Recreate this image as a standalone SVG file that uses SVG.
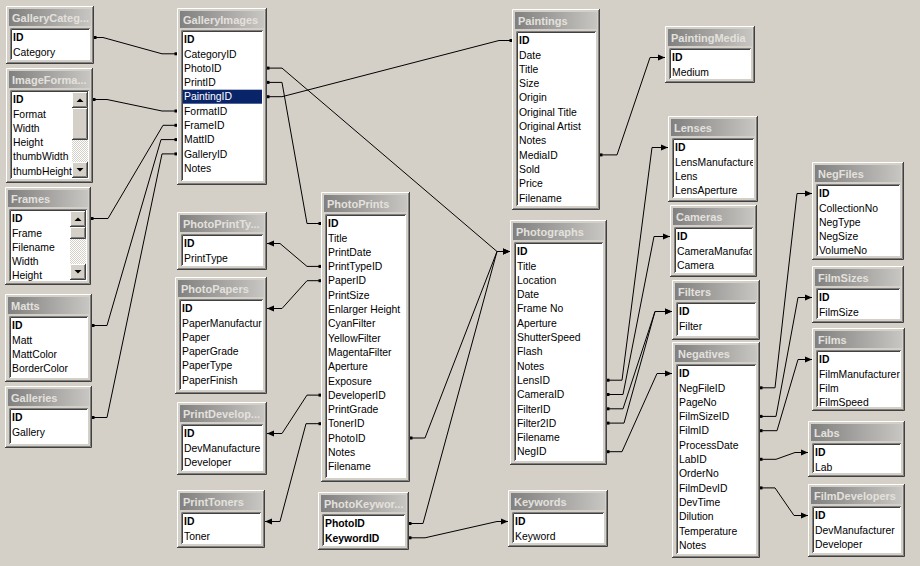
<svg xmlns="http://www.w3.org/2000/svg" width="920" height="566" viewBox="0 0 920 566">
<defs>
<linearGradient id="tg" x1="0" y1="0" x2="1" y2="0"><stop offset="0" stop-color="#808080"/><stop offset="1" stop-color="#c8c6c2"/></linearGradient>
<pattern id="dither" width="2" height="2" patternUnits="userSpaceOnUse"><rect width="2" height="2" fill="#fff"/><rect width="1" height="1" fill="#d4d0c8"/><rect x="1" y="1" width="1" height="1" fill="#d4d0c8"/></pattern>
<marker id="dot" markerUnits="userSpaceOnUse" markerWidth="4" markerHeight="4" refX="2" refY="2" viewBox="0 0 4 4"><rect x="0.5" y="0.5" width="3" height="3" fill="#000"/></marker>
<marker id="arr" markerUnits="userSpaceOnUse" markerWidth="7" markerHeight="7" refX="7" refY="3.5" viewBox="0 0 7 7" orient="auto"><path d="M0,0.5 L7,3.5 L0,6.5 z" fill="#000"/></marker>
<style>
.win{fill:#d4d0c8}
.hl{fill:none;stroke:#fff}
.dk{fill:none;stroke:#404040}
.md{fill:none;stroke:#808080}
.tb{fill:url(#tg)}
.tt{font-family:"Liberation Sans",Arial,sans-serif;font-size:11px;font-weight:bold;fill:#e4e1dc}
.lst{fill:#fff}
.f{font-family:"Liberation Sans",Arial,sans-serif;font-size:10.4px;fill:#000}
.k{font-weight:bold}
.sel{fill:#0a246a}
.w{fill:#fff}
.cn path{fill:none;stroke:#000;stroke-width:1}
</style>
</defs>
<rect width="920" height="566" fill="#d4d0c8"/>

<g id="connectors" class="cn">
<path d="M95,37.5 H103 L162,53.8 H176" marker-start="url(#dot)" marker-end="url(#dot)"/>
<path d="M94,99.5 H107 L162,111 H176" marker-start="url(#dot)" marker-end="url(#dot)"/>
<path d="M92,218.5 H108 L163,125.3 H176" marker-start="url(#dot)" marker-end="url(#dot)"/>
<path d="M93,325.5 H107 L161,139.6 H176" marker-start="url(#dot)" marker-end="url(#dot)"/>
<path d="M93,417.5 H107 L162,153.9 H176" marker-start="url(#dot)" marker-end="url(#dot)"/>
<path d="M268,68.1 H282 L497,251.5 H510" marker-start="url(#dot)" marker-end="url(#arr)"/>
<path d="M268,82.4 H282 L307,223.5 H320" marker-start="url(#dot)" marker-end="url(#dot)"/>
<path d="M268,96.7 H282 L499,40.5 H511" marker-start="url(#dot)" marker-end="url(#dot)"/>
<path d="M601,154.9 H617 L650,57.5 H665" marker-start="url(#dot)" marker-end="url(#arr)"/>
<path d="M608,380.2 H622 L652,147.5 H668" marker-start="url(#dot)" marker-end="url(#arr)"/>
<path d="M608,394.5 H623 L654,236.5 H670" marker-start="url(#dot)" marker-end="url(#arr)"/>
<path d="M608,408.8 H623 L655,311.5 H672" marker-start="url(#dot)" marker-end="url(#arr)"/>
<path d="M608,423.1 H624 L655,311.5 H672" marker-start="url(#dot)" marker-end="url(#arr)"/>
<path d="M608,451.7 H622 L657,373.5 H672" marker-start="url(#dot)" marker-end="url(#arr)"/>
<path d="M761,387.8 H775 L797,193.5 H812" marker-start="url(#dot)" marker-end="url(#arr)"/>
<path d="M761,416.4 H776 L798,297.5 H812" marker-start="url(#dot)" marker-end="url(#arr)"/>
<path d="M761,430.7 H777 L798,359.5 H812" marker-start="url(#dot)" marker-end="url(#arr)"/>
<path d="M761,459.3 H776 L795,452.5 H808" marker-start="url(#dot)" marker-end="url(#arr)"/>
<path d="M761,487.9 H775 L794,515.5 H808" marker-start="url(#dot)" marker-end="url(#arr)"/>
<path d="M320,266.4 H307 L280,243.5 H267" marker-start="url(#dot)" marker-end="url(#arr)"/>
<path d="M320,280.7 H307 L282,308.5 H267" marker-start="url(#dot)" marker-end="url(#arr)"/>
<path d="M320,395.1 H307 L282,433.5 H267" marker-start="url(#dot)" marker-end="url(#arr)"/>
<path d="M320,423.7 H306 L280,521.5 H265" marker-start="url(#dot)" marker-end="url(#arr)"/>
<path d="M411,438 H425 L497,251.5 H510" marker-start="url(#dot)" marker-end="url(#arr)"/>
<path d="M410,523.5 H423 L497,251.5 H510" marker-start="url(#dot)" marker-end="url(#arr)"/>
<path d="M410,537.8 H425 L497,521.5 H508" marker-start="url(#dot)" marker-end="url(#arr)"/>
</g>

<g id="t-gallerycategories" transform="translate(6,6)">
<rect class="win" width="88" height="58"/>
<path class="hl" d="M0.5,57 V0.5 H87"/><path class="dk" d="M0,57.5 H87.5 V0"/><path class="md" d="M1,56.5 H86.5 V1"/>
<rect class="tb" x="3" y="3" width="82" height="17"/><text class="tt" x="6" y="15.5">GalleryCateg...</text>
<rect class="lst" x="4" y="22" width="80" height="32"/>
<path class="md" d="M4.5,54 V22.5 H84"/><path class="dk" d="M5.5,53 V23.5 H83"/>
<svg width="83" height="54"><text class="f k" x="7" y="35.2">ID</text><text class="f" x="7" y="49.5">Category</text></svg>
</g>

<g id="t-imageformats" transform="translate(6,68)">
<rect class="win" width="87" height="115"/>
<path class="hl" d="M0.5,114 V0.5 H86"/><path class="dk" d="M0,114.5 H86.5 V0"/><path class="md" d="M1,113.5 H85.5 V1"/>
<rect class="tb" x="3" y="3" width="81" height="17"/><text class="tt" x="6" y="15.5">ImageForma...</text>
<rect class="lst" x="4" y="22" width="79" height="89"/>
<path class="md" d="M4.5,111 V22.5 H83"/><path class="dk" d="M5.5,110 V23.5 H82"/>
<svg width="82" height="111"><text class="f k" x="7" y="35.2">ID</text><text class="f" x="7" y="49.5">Format</text><text class="f" x="7" y="63.8">Width</text><text class="f" x="7" y="78.1">Height</text><text class="f" x="7" y="92.4">thumbWidth</text><text class="f" x="7" y="106.7">thumbHeight</text></svg>
<rect x="66" y="24" width="16" height="86" fill="url(#dither)"/>
<rect class="win" x="66" y="24" width="16" height="16"/><path class="hl" d="M66.5,39 V24.5 H81"/><path class="dk" d="M66,39.5 H81.5 V24"/><path class="md" d="M67,38.5 H80.5 V25"/>
<polygon points="70.5,34 77.5,34 74,30.5" fill="#000"/>
<rect class="win" x="66" y="40" width="16" height="32"/><path class="hl" d="M66.5,71 V40.5 H81"/><path class="dk" d="M66,71.5 H81.5 V40"/><path class="md" d="M67,70.5 H80.5 V41"/>
<rect class="win" x="66" y="94" width="16" height="16"/><path class="hl" d="M66.5,109 V94.5 H81"/><path class="dk" d="M66,109.5 H81.5 V94"/><path class="md" d="M67,108.5 H80.5 V95"/>
<polygon points="70.5,100 77.5,100 74,103.5" fill="#000"/>
</g>

<g id="t-frames" transform="translate(5,187)">
<rect class="win" width="86" height="98"/>
<path class="hl" d="M0.5,97 V0.5 H85"/><path class="dk" d="M0,97.5 H85.5 V0"/><path class="md" d="M1,96.5 H84.5 V1"/>
<rect class="tb" x="3" y="3" width="80" height="17"/><text class="tt" x="6" y="15.5">Frames</text>
<rect class="lst" x="4" y="22" width="78" height="72"/>
<path class="md" d="M4.5,94 V22.5 H82"/><path class="dk" d="M5.5,93 V23.5 H81"/>
<svg width="81" height="94"><text class="f k" x="7" y="35.2">ID</text><text class="f" x="7" y="49.5">Frame</text><text class="f" x="7" y="63.8">Filename</text><text class="f" x="7" y="78.1">Width</text><text class="f" x="7" y="92.4">Height</text></svg>
<rect x="65" y="24" width="16" height="69" fill="url(#dither)"/>
<rect class="win" x="65" y="24" width="16" height="16"/><path class="hl" d="M65.5,39 V24.5 H80"/><path class="dk" d="M65,39.5 H80.5 V24"/><path class="md" d="M66,38.5 H79.5 V25"/>
<polygon points="69.5,34 76.5,34 73,30.5" fill="#000"/>
<rect class="win" x="65" y="40" width="16" height="12"/><path class="hl" d="M65.5,51 V40.5 H80"/><path class="dk" d="M65,51.5 H80.5 V40"/><path class="md" d="M66,50.5 H79.5 V41"/>
<rect class="win" x="65" y="77" width="16" height="16"/><path class="hl" d="M65.5,92 V77.5 H80"/><path class="dk" d="M65,92.5 H80.5 V77"/><path class="md" d="M66,91.5 H79.5 V78"/>
<polygon points="69.5,83 76.5,83 73,86.5" fill="#000"/>
</g>

<g id="t-matts" transform="translate(5,294)">
<rect class="win" width="87" height="88"/>
<path class="hl" d="M0.5,87 V0.5 H86"/><path class="dk" d="M0,87.5 H86.5 V0"/><path class="md" d="M1,86.5 H85.5 V1"/>
<rect class="tb" x="3" y="3" width="81" height="17"/><text class="tt" x="6" y="15.5">Matts</text>
<rect class="lst" x="4" y="22" width="79" height="62"/>
<path class="md" d="M4.5,84 V22.5 H83"/><path class="dk" d="M5.5,83 V23.5 H82"/>
<svg width="82" height="84"><text class="f k" x="7" y="35.2">ID</text><text class="f" x="7" y="49.5">Matt</text><text class="f" x="7" y="63.8">MattColor</text><text class="f" x="7" y="78.1">BorderColor</text></svg>
</g>

<g id="t-galleries" transform="translate(5,386)">
<rect class="win" width="87" height="62"/>
<path class="hl" d="M0.5,61 V0.5 H86"/><path class="dk" d="M0,61.5 H86.5 V0"/><path class="md" d="M1,60.5 H85.5 V1"/>
<rect class="tb" x="3" y="3" width="81" height="17"/><text class="tt" x="6" y="15.5">Galleries</text>
<rect class="lst" x="4" y="22" width="79" height="36"/>
<path class="md" d="M4.5,58 V22.5 H83"/><path class="dk" d="M5.5,57 V23.5 H82"/>
<svg width="82" height="58"><text class="f k" x="7" y="35.2">ID</text><text class="f" x="7" y="49.5">Gallery</text></svg>
</g>

<g id="t-galleryimages" transform="translate(177,8)">
<rect class="win" width="90" height="177"/>
<path class="hl" d="M0.5,176 V0.5 H89"/><path class="dk" d="M0,176.5 H89.5 V0"/><path class="md" d="M1,175.5 H88.5 V1"/>
<rect class="tb" x="3" y="3" width="84" height="17"/><text class="tt" x="6" y="15.5">GalleryImages</text>
<rect class="lst" x="4" y="22" width="82" height="151"/>
<path class="md" d="M4.5,173 V22.5 H86"/><path class="dk" d="M5.5,172 V23.5 H85"/>
<rect class="sel" x="6" y="81.7" width="79" height="14"/>
<svg width="85" height="173"><text class="f k" x="7" y="35.2">ID</text><text class="f" x="7" y="49.5">CategoryID</text><text class="f" x="7" y="63.8">PhotoID</text><text class="f" x="7" y="78.1">PrintID</text><text class="f w" x="7" y="92.4">PaintingID</text><text class="f" x="7" y="106.7">FormatID</text><text class="f" x="7" y="121">FrameID</text><text class="f" x="7" y="135.3">MattID</text><text class="f" x="7" y="149.6">GalleryID</text><text class="f" x="7" y="163.9">Notes</text></svg>
</g>

<g id="t-photoprinttypes" transform="translate(177,212)">
<rect class="win" width="90" height="58"/>
<path class="hl" d="M0.5,57 V0.5 H89"/><path class="dk" d="M0,57.5 H89.5 V0"/><path class="md" d="M1,56.5 H88.5 V1"/>
<rect class="tb" x="3" y="3" width="84" height="17"/><text class="tt" x="6" y="15.5">PhotoPrintTy...</text>
<rect class="lst" x="4" y="22" width="82" height="32"/>
<path class="md" d="M4.5,54 V22.5 H86"/><path class="dk" d="M5.5,53 V23.5 H85"/>
<svg width="85" height="54"><text class="f k" x="7" y="35.2">ID</text><text class="f" x="7" y="49.5">PrintType</text></svg>
</g>

<g id="t-photopapers" transform="translate(175,277)">
<rect class="win" width="92" height="117"/>
<path class="hl" d="M0.5,116 V0.5 H91"/><path class="dk" d="M0,116.5 H91.5 V0"/><path class="md" d="M1,115.5 H90.5 V1"/>
<rect class="tb" x="3" y="3" width="86" height="17"/><text class="tt" x="6" y="15.5">PhotoPapers</text>
<rect class="lst" x="4" y="22" width="84" height="91"/>
<path class="md" d="M4.5,113 V22.5 H88"/><path class="dk" d="M5.5,112 V23.5 H87"/>
<svg width="87" height="113"><text class="f k" x="7" y="35.2">ID</text><text class="f" x="7" y="49.5">PaperManufactur</text><text class="f" x="7" y="63.8">Paper</text><text class="f" x="7" y="78.1">PaperGrade</text><text class="f" x="7" y="92.4">PaperType</text><text class="f" x="7" y="106.7">PaperFinish</text></svg>
</g>

<g id="t-printdevelopers" transform="translate(177,402)">
<rect class="win" width="90" height="73"/>
<path class="hl" d="M0.5,72 V0.5 H89"/><path class="dk" d="M0,72.5 H89.5 V0"/><path class="md" d="M1,71.5 H88.5 V1"/>
<rect class="tb" x="3" y="3" width="84" height="17"/><text class="tt" x="6" y="15.5">PrintDevelop...</text>
<rect class="lst" x="4" y="22" width="82" height="47"/>
<path class="md" d="M4.5,69 V22.5 H86"/><path class="dk" d="M5.5,68 V23.5 H85"/>
<svg width="85" height="69"><text class="f k" x="7" y="35.2">ID</text><text class="f" x="7" y="49.5">DevManufacture</text><text class="f" x="7" y="63.8">Developer</text></svg>
</g>

<g id="t-printtoners" transform="translate(177,490)">
<rect class="win" width="88" height="58"/>
<path class="hl" d="M0.5,57 V0.5 H87"/><path class="dk" d="M0,57.5 H87.5 V0"/><path class="md" d="M1,56.5 H86.5 V1"/>
<rect class="tb" x="3" y="3" width="82" height="17"/><text class="tt" x="6" y="15.5">PrintToners</text>
<rect class="lst" x="4" y="22" width="80" height="32"/>
<path class="md" d="M4.5,54 V22.5 H84"/><path class="dk" d="M5.5,53 V23.5 H83"/>
<svg width="83" height="54"><text class="f k" x="7" y="35.2">ID</text><text class="f" x="7" y="49.5">Toner</text></svg>
</g>

<g id="t-photoprints" transform="translate(321,192)">
<rect class="win" width="89" height="290"/>
<path class="hl" d="M0.5,289 V0.5 H88"/><path class="dk" d="M0,289.5 H88.5 V0"/><path class="md" d="M1,288.5 H87.5 V1"/>
<rect class="tb" x="3" y="3" width="83" height="17"/><text class="tt" x="6" y="15.5">PhotoPrints</text>
<rect class="lst" x="4" y="22" width="81" height="264"/>
<path class="md" d="M4.5,286 V22.5 H85"/><path class="dk" d="M5.5,285 V23.5 H84"/>
<svg width="84" height="286"><text class="f k" x="7" y="35.2">ID</text><text class="f" x="7" y="49.5">Title</text><text class="f" x="7" y="63.8">PrintDate</text><text class="f" x="7" y="78.1">PrintTypeID</text><text class="f" x="7" y="92.4">PaperID</text><text class="f" x="7" y="106.7">PrintSize</text><text class="f" x="7" y="121">Enlarger Height</text><text class="f" x="7" y="135.3">CyanFilter</text><text class="f" x="7" y="149.6">YellowFilter</text><text class="f" x="7" y="163.9">MagentaFilter</text><text class="f" x="7" y="178.2">Aperture</text><text class="f" x="7" y="192.5">Exposure</text><text class="f" x="7" y="206.8">DeveloperID</text><text class="f" x="7" y="221.1">PrintGrade</text><text class="f" x="7" y="235.4">TonerID</text><text class="f" x="7" y="249.7">PhotoID</text><text class="f" x="7" y="264">Notes</text><text class="f" x="7" y="278.3">Filename</text></svg>
</g>

<g id="t-photokeywords" transform="translate(318,492)">
<rect class="win" width="91" height="58"/>
<path class="hl" d="M0.5,57 V0.5 H90"/><path class="dk" d="M0,57.5 H90.5 V0"/><path class="md" d="M1,56.5 H89.5 V1"/>
<rect class="tb" x="3" y="3" width="85" height="17"/><text class="tt" x="6" y="15.5">PhotoKeywor...</text>
<rect class="lst" x="4" y="22" width="83" height="32"/>
<path class="md" d="M4.5,54 V22.5 H87"/><path class="dk" d="M5.5,53 V23.5 H86"/>
<svg width="86" height="54"><text class="f k" x="7" y="35.2">PhotoID</text><text class="f k" x="7" y="49.5">KeywordID</text></svg>
</g>

<g id="t-paintings" transform="translate(512,9)">
<rect class="win" width="88" height="201"/>
<path class="hl" d="M0.5,200 V0.5 H87"/><path class="dk" d="M0,200.5 H87.5 V0"/><path class="md" d="M1,199.5 H86.5 V1"/>
<rect class="tb" x="3" y="3" width="82" height="17"/><text class="tt" x="6" y="15.5">Paintings</text>
<rect class="lst" x="4" y="22" width="80" height="175"/>
<path class="md" d="M4.5,197 V22.5 H84"/><path class="dk" d="M5.5,196 V23.5 H83"/>
<svg width="83" height="197"><text class="f k" x="7" y="35.2">ID</text><text class="f" x="7" y="49.5">Date</text><text class="f" x="7" y="63.8">Title</text><text class="f" x="7" y="78.1">Size</text><text class="f" x="7" y="92.4">Origin</text><text class="f" x="7" y="106.7">Original Title</text><text class="f" x="7" y="121">Original Artist</text><text class="f" x="7" y="135.3">Notes</text><text class="f" x="7" y="149.6">MediaID</text><text class="f" x="7" y="163.9">Sold</text><text class="f" x="7" y="178.2">Price</text><text class="f" x="7" y="192.5">Filename</text></svg>
</g>

<g id="t-paintingmedia" transform="translate(665,26)">
<rect class="win" width="90" height="57"/>
<path class="hl" d="M0.5,56 V0.5 H89"/><path class="dk" d="M0,56.5 H89.5 V0"/><path class="md" d="M1,55.5 H88.5 V1"/>
<rect class="tb" x="3" y="3" width="84" height="17"/><text class="tt" x="6" y="15.5">PaintingMedia</text>
<rect class="lst" x="4" y="22" width="82" height="31"/>
<path class="md" d="M4.5,53 V22.5 H86"/><path class="dk" d="M5.5,52 V23.5 H85"/>
<svg width="85" height="53"><text class="f k" x="7" y="35.2">ID</text><text class="f" x="7" y="49.5">Medium</text></svg>
</g>

<g id="t-lenses" transform="translate(668,116)">
<rect class="win" width="90" height="86"/>
<path class="hl" d="M0.5,85 V0.5 H89"/><path class="dk" d="M0,85.5 H89.5 V0"/><path class="md" d="M1,84.5 H88.5 V1"/>
<rect class="tb" x="3" y="3" width="84" height="17"/><text class="tt" x="6" y="15.5">Lenses</text>
<rect class="lst" x="4" y="22" width="82" height="60"/>
<path class="md" d="M4.5,82 V22.5 H86"/><path class="dk" d="M5.5,81 V23.5 H85"/>
<svg width="85" height="82"><text class="f k" x="7" y="35.2">ID</text><text class="f" x="7" y="49.5">LensManufacture</text><text class="f" x="7" y="63.8">Lens</text><text class="f" x="7" y="78.1">LensAperture</text></svg>
</g>

<g id="t-cameras" transform="translate(670,205)">
<rect class="win" width="87" height="72"/>
<path class="hl" d="M0.5,71 V0.5 H86"/><path class="dk" d="M0,71.5 H86.5 V0"/><path class="md" d="M1,70.5 H85.5 V1"/>
<rect class="tb" x="3" y="3" width="81" height="17"/><text class="tt" x="6" y="15.5">Cameras</text>
<rect class="lst" x="4" y="22" width="79" height="46"/>
<path class="md" d="M4.5,68 V22.5 H83"/><path class="dk" d="M5.5,67 V23.5 H82"/>
<svg width="82" height="68"><text class="f k" x="7" y="35.2">ID</text><text class="f" x="7" y="49.5">CameraManufact</text><text class="f" x="7" y="63.8">Camera</text></svg>
</g>

<g id="t-filters" transform="translate(672,280)">
<rect class="win" width="88" height="60"/>
<path class="hl" d="M0.5,59 V0.5 H87"/><path class="dk" d="M0,59.5 H87.5 V0"/><path class="md" d="M1,58.5 H86.5 V1"/>
<rect class="tb" x="3" y="3" width="82" height="17"/><text class="tt" x="6" y="15.5">Filters</text>
<rect class="lst" x="4" y="22" width="80" height="34"/>
<path class="md" d="M4.5,56 V22.5 H84"/><path class="dk" d="M5.5,55 V23.5 H83"/>
<svg width="83" height="56"><text class="f k" x="7" y="35.2">ID</text><text class="f" x="7" y="49.5">Filter</text></svg>
</g>

<g id="t-photographs" transform="translate(510,220)">
<rect class="win" width="97" height="245"/>
<path class="hl" d="M0.5,244 V0.5 H96"/><path class="dk" d="M0,244.5 H96.5 V0"/><path class="md" d="M1,243.5 H95.5 V1"/>
<rect class="tb" x="3" y="3" width="91" height="17"/><text class="tt" x="6" y="15.5">Photographs</text>
<rect class="lst" x="4" y="22" width="89" height="219"/>
<path class="md" d="M4.5,241 V22.5 H93"/><path class="dk" d="M5.5,240 V23.5 H92"/>
<svg width="92" height="241"><text class="f k" x="7" y="35.2">ID</text><text class="f" x="7" y="49.5">Title</text><text class="f" x="7" y="63.8">Location</text><text class="f" x="7" y="78.1">Date</text><text class="f" x="7" y="92.4">Frame No</text><text class="f" x="7" y="106.7">Aperture</text><text class="f" x="7" y="121">ShutterSpeed</text><text class="f" x="7" y="135.3">Flash</text><text class="f" x="7" y="149.6">Notes</text><text class="f" x="7" y="163.9">LensID</text><text class="f" x="7" y="178.2">CameraID</text><text class="f" x="7" y="192.5">FilterID</text><text class="f" x="7" y="206.8">Filter2ID</text><text class="f" x="7" y="221.1">Filename</text><text class="f" x="7" y="235.4">NegID</text></svg>
</g>

<g id="t-negatives" transform="translate(672,342)">
<rect class="win" width="88" height="216"/>
<path class="hl" d="M0.5,215 V0.5 H87"/><path class="dk" d="M0,215.5 H87.5 V0"/><path class="md" d="M1,214.5 H86.5 V1"/>
<rect class="tb" x="3" y="3" width="82" height="17"/><text class="tt" x="6" y="15.5">Negatives</text>
<rect class="lst" x="4" y="22" width="80" height="190"/>
<path class="md" d="M4.5,212 V22.5 H84"/><path class="dk" d="M5.5,211 V23.5 H83"/>
<svg width="83" height="212"><text class="f k" x="7" y="35.2">ID</text><text class="f" x="7" y="49.5">NegFileID</text><text class="f" x="7" y="63.8">PageNo</text><text class="f" x="7" y="78.1">FilmSizeID</text><text class="f" x="7" y="92.4">FilmID</text><text class="f" x="7" y="106.7">ProcessDate</text><text class="f" x="7" y="121">LabID</text><text class="f" x="7" y="135.3">OrderNo</text><text class="f" x="7" y="149.6">FilmDevID</text><text class="f" x="7" y="163.9">DevTime</text><text class="f" x="7" y="178.2">Dilution</text><text class="f" x="7" y="192.5">Temperature</text><text class="f" x="7" y="206.8">Notes</text></svg>
</g>

<g id="t-negfiles" transform="translate(812,162)">
<rect class="win" width="92" height="98"/>
<path class="hl" d="M0.5,97 V0.5 H91"/><path class="dk" d="M0,97.5 H91.5 V0"/><path class="md" d="M1,96.5 H90.5 V1"/>
<rect class="tb" x="3" y="3" width="86" height="17"/><text class="tt" x="6" y="15.5">NegFiles</text>
<rect class="lst" x="4" y="22" width="84" height="72"/>
<path class="md" d="M4.5,94 V22.5 H88"/><path class="dk" d="M5.5,93 V23.5 H87"/>
<svg width="87" height="94"><text class="f k" x="7" y="35.2">ID</text><text class="f" x="7" y="49.5">CollectionNo</text><text class="f" x="7" y="63.8">NegType</text><text class="f" x="7" y="78.1">NegSize</text><text class="f" x="7" y="92.4">VolumeNo</text></svg>
</g>

<g id="t-filmsizes" transform="translate(812,266)">
<rect class="win" width="92" height="57"/>
<path class="hl" d="M0.5,56 V0.5 H91"/><path class="dk" d="M0,56.5 H91.5 V0"/><path class="md" d="M1,55.5 H90.5 V1"/>
<rect class="tb" x="3" y="3" width="86" height="17"/><text class="tt" x="6" y="15.5">FilmSizes</text>
<rect class="lst" x="4" y="22" width="84" height="31"/>
<path class="md" d="M4.5,53 V22.5 H88"/><path class="dk" d="M5.5,52 V23.5 H87"/>
<svg width="87" height="53"><text class="f k" x="7" y="35.2">ID</text><text class="f" x="7" y="49.5">FilmSize</text></svg>
</g>

<g id="t-films" transform="translate(812,328)">
<rect class="win" width="93" height="83"/>
<path class="hl" d="M0.5,82 V0.5 H92"/><path class="dk" d="M0,82.5 H92.5 V0"/><path class="md" d="M1,81.5 H91.5 V1"/>
<rect class="tb" x="3" y="3" width="87" height="17"/><text class="tt" x="6" y="15.5">Films</text>
<rect class="lst" x="4" y="22" width="85" height="57"/>
<path class="md" d="M4.5,79 V22.5 H89"/><path class="dk" d="M5.5,78 V23.5 H88"/>
<svg width="88" height="79"><text class="f k" x="7" y="35.2">ID</text><text class="f" x="7" y="49.5">FilmManufacturer</text><text class="f" x="7" y="63.8">Film</text><text class="f" x="7" y="78.1">FilmSpeed</text></svg>
</g>

<g id="t-labs" transform="translate(808,421)">
<rect class="win" width="97" height="56"/>
<path class="hl" d="M0.5,55 V0.5 H96"/><path class="dk" d="M0,55.5 H96.5 V0"/><path class="md" d="M1,54.5 H95.5 V1"/>
<rect class="tb" x="3" y="3" width="91" height="17"/><text class="tt" x="6" y="15.5">Labs</text>
<rect class="lst" x="4" y="22" width="89" height="30"/>
<path class="md" d="M4.5,52 V22.5 H93"/><path class="dk" d="M5.5,51 V23.5 H92"/>
<svg width="92" height="52"><text class="f k" x="7" y="35.2">ID</text><text class="f" x="7" y="49.5">Lab</text></svg>
</g>

<g id="t-filmdevelopers" transform="translate(808,484)">
<rect class="win" width="97" height="73"/>
<path class="hl" d="M0.5,72 V0.5 H96"/><path class="dk" d="M0,72.5 H96.5 V0"/><path class="md" d="M1,71.5 H95.5 V1"/>
<rect class="tb" x="3" y="3" width="91" height="17"/><text class="tt" x="6" y="15.5">FilmDevelopers</text>
<rect class="lst" x="4" y="22" width="89" height="47"/>
<path class="md" d="M4.5,69 V22.5 H93"/><path class="dk" d="M5.5,68 V23.5 H92"/>
<svg width="92" height="69"><text class="f k" x="7" y="35.2">ID</text><text class="f" x="7" y="49.5">DevManufacturer</text><text class="f" x="7" y="63.8">Developer</text></svg>
</g>

<g id="t-keywords" transform="translate(508,490)">
<rect class="win" width="100" height="57"/>
<path class="hl" d="M0.5,56 V0.5 H99"/><path class="dk" d="M0,56.5 H99.5 V0"/><path class="md" d="M1,55.5 H98.5 V1"/>
<rect class="tb" x="3" y="3" width="94" height="17"/><text class="tt" x="6" y="15.5">Keywords</text>
<rect class="lst" x="4" y="22" width="92" height="31"/>
<path class="md" d="M4.5,53 V22.5 H96"/><path class="dk" d="M5.5,52 V23.5 H95"/>
<svg width="95" height="53"><text class="f k" x="7" y="35.2">ID</text><text class="f" x="7" y="49.5">Keyword</text></svg>
</g>
</svg>
